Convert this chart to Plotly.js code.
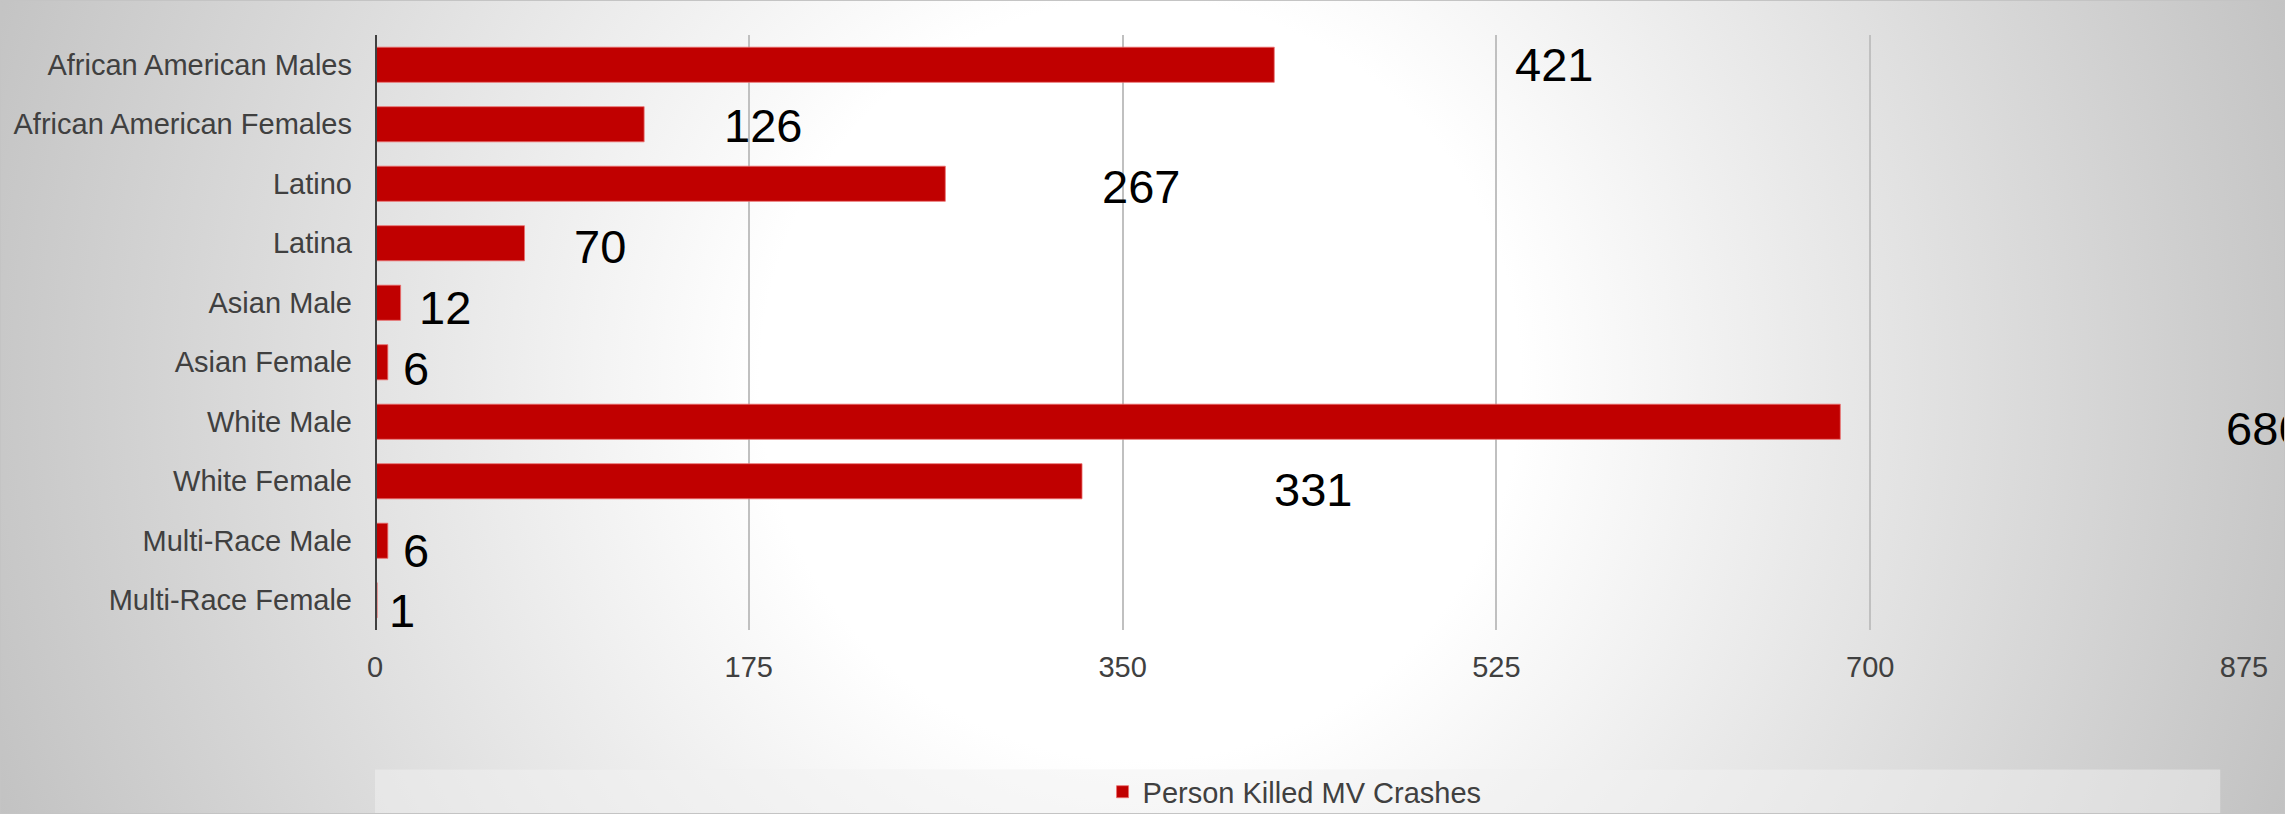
<!DOCTYPE html>
<html>
<head>
<meta charset="utf-8">
<script src="https://cdn.plot.ly/plotly-3.0.1.min.js"></script>
<style>
  html, body { margin: 0; padding: 0; width: 2285px; height: 814px; overflow: hidden; }
  body {
    background: radial-gradient(circle at 1140px 380px, #ffffff 0px, #ffffff 380px, #c0c0c0 1250px);
    position: relative;
  }
  #chart { position: absolute; left: 0; top: 0; width: 2285px; height: 814px; }
  #frame { position: absolute; left: 0; top: 0; width: 2283px; height: 812px; border: 1px solid #c4c4c4; pointer-events: none; }
</style>
</head>
<body>
<div id="chart"></div>
<div id="frame"></div>
<script>
// ---- data ----
const categories = [
  "African American Males",
  "African American Females",
  "Latino",
  "Latina",
  "Asian Male",
  "Asian Female",
  "White Male",
  "White Female",
  "Multi-Race Male",
  "Multi-Race Female"
];
const killed = [421, 126, 267, 70, 12, 6, 686, 331, 6, 1];
const seriesName = "Person Killed MV Crashes";
const xTicks = [0, 175, 350, 525, 700, 875];

// ---- label placement (labels in the source sit on a stretched scale) ----
const LABEL_SCALE = 1.255;
const LABEL_PAD = 4.5;
const LABEL_ROW_SCALE = 1.02;

const font = "Liberation Sans, Arial, sans-serif";

const trace = {
  type: "bar",
  orientation: "h",
  x: killed,
  y: categories,
  name: seriesName,
  marker: { color: "#C00000", line: { color: "rgba(235,110,110,0.8)", width: 1 } },
  hoverinfo: "none"
};

const annotations = killed.map((v, i) => ({
  x: v * LABEL_SCALE + LABEL_PAD,
  y: i * LABEL_ROW_SCALE,
  xref: "x", yref: "y",
  text: String(v),
  showarrow: false,
  xanchor: "left",
  yanchor: "middle",
  font: { family: font, size: 47, color: "#000000" }
}));

const layout = {
  width: 2285,
  height: 814,
  margin: { l: 375, r: 41, t: 35, b: 184, pad: 0, autoexpand: false },
  paper_bgcolor: "rgba(0,0,0,0)",
  plot_bgcolor: "rgba(0,0,0,0)",
  bargap: 0.41,
  showlegend: true,
  font: { family: font, size: 29, color: "#404040" },
  xaxis: {
    range: [0, 875],
    tickvals: xTicks,
    ticktext: xTicks.map(String),
    showgrid: true,
    gridcolor: "#c0c0c0",
    gridwidth: 2,
    zeroline: false,
    showline: false,
    ticks: "",
    ticklabelstandoff: 17,
    tickfont: { family: font, size: 29, color: "#404040" },
    fixedrange: true
  },
  yaxis: {
    type: "category",
    range: [categories.length - 0.5, -0.5],
    autorange: false,
    showgrid: false,
    zeroline: false,
    showline: false,
    ticks: "",
    ticklabelstandoff: 22,
    tickfont: { family: font, size: 29, color: "#404040" },
    fixedrange: true
  },
  legend: {
    orientation: "h",
    x: 0.492,
    xanchor: "center",
    y: -0.272,
    yanchor: "middle",
    bgcolor: "rgba(0,0,0,0)",
    font: { family: font, size: 29, color: "#404040" }
  },
  shapes: [
    {
      type: "rect",
      xref: "paper", yref: "paper",
      x0: 0, x1: 0.9873,
      y0: -0.31, y1: -0.2343,
      fillcolor: "rgba(241,241,241,0.5)",
      line: { width: 0 },
      layer: "below"
    },
    {
      type: "line",
      xref: "x", yref: "paper",
      x0: 0, x1: 0, y0: 0, y1: 1,
      line: { color: "#404040", width: 4 },
      layer: "above"
    }
  ],
  annotations: annotations
};

Plotly.newPlot("chart", [trace], layout, { displayModeBar: false, staticPlot: true });
</script>
</body>
</html>
